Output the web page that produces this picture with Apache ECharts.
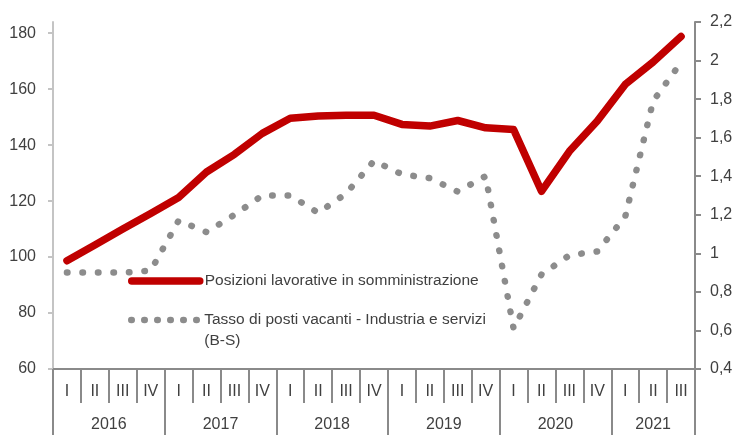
<!DOCTYPE html>
<html>
<head>
<meta charset="utf-8">
<script src="https://cdn.jsdelivr.net/npm/echarts@6/dist/echarts.min.js"></script>
<style>
  html, body { margin: 0; padding: 0; background: #fff; }
  #chart { width: 748px; height: 435px; }
</style>
</head>
<body>
<div id="chart"></div>
<script>
// dati
let years = ['2016', '2017', '2018', '2019', '2020', '2021'];
let quartersPerYear = [4, 4, 4, 4, 4, 3];
let quarterNames = ['I', 'II', 'III', 'IV'];

let somministrazione = [98.7, 104.3, 110, 115.6, 121.3, 130.4, 136.7, 144.2, 149.6, 150.4, 150.7, 150.7,
    147.4, 146.8, 148.8, 146.2, 145.6, 123.5, 137.8, 148.6, 161.7, 169.7, 178.8];
let tassoVacanti = [0.9, 0.9, 0.9, 0.91, 1.17, 1.11, 1.2, 1.3, 1.3, 1.21, 1.31, 1.48,
    1.41, 1.39, 1.32, 1.4, 0.61, 0.89, 0.99, 1.01, 1.19, 1.79, 1.99];

let leftTicks = [60, 80, 100, 120, 140, 160, 180];
let rightTicks = [0.4, 0.6, 0.8, 1, 1.2, 1.4, 1.6, 1.8, 2, 2.2];

let nameSomm = 'Posizioni lavorative in somministrazione';
let nameTasso = 'Tasso di posti vacanti - Industria e servizi\n(B-S)';

let font = "'Liberation Sans Narrow', 'Arial Narrow', 'Liberation Sans', Arial, sans-serif";
let textColor = '#404040';
let axisGray = '#8a8a8a';

// categorie e confini degli anni
let categories = [];
let yearBounds = [0];
let yearCenters = [];
years.forEach((y, i) => {
    let start = yearBounds[i];
    for (let q = 0; q < quartersPerYear[i]; q++) {
        categories.push(y + ' ' + quarterNames[q]);
    }
    yearBounds.push(start + quartersPerYear[i]);
    yearCenters.push(start + quartersPerYear[i] / 2);
});

function createChart() {
    let myChart = echarts.init(document.getElementById('chart'));
    let option = {
        animation: false,
        textStyle: { fontFamily: font },
        grid: { left: 53, right: 53, top: 22, bottom: 66 },
        legend: [{
            data: [nameSomm],
            orient: 'vertical',
            left: 128,
            top: 271,
            padding: 0,
            itemWidth: 68,
            itemHeight: 20,
            lineStyle: { width: 7.5 },
            itemStyle: { opacity: 0 },
            textStyle: { fontFamily: font, fontSize: 15.5, color: textColor, lineHeight: 20 },
            selectedMode: false
        }, {
            data: [nameTasso],
            orient: 'vertical',
            left: 128,
            top: 288.5,
            padding: 0,
            itemWidth: 68,
            itemHeight: 20,
            lineStyle: { width: 6.5, type: [0.5, 12.5] },
            itemStyle: { opacity: 0 },
            formatter: name => '\n' + name,
            textStyle: { fontFamily: font, fontSize: 15.5, color: textColor, lineHeight: 21 },
            selectedMode: false
        }],
        xAxis: [{
            type: 'category',
            data: categories,
            boundaryGap: true,
            position: 'bottom',
            axisLine: { show: true, lineStyle: { color: axisGray, width: 2 } },
            axisTick: { show: true, interval: 0, length: 34, lineStyle: { color: axisGray, width: 2 } },
            axisLabel: {
                interval: 0,
                margin: 15,
                fontSize: 16,
                color: textColor,
                fontFamily: font,
                formatter: v => v.split(' ')[1]
            },
            splitLine: { show: false }
        }, {
            type: 'value',
            min: 0,
            max: categories.length,
            position: 'bottom',
            axisLine: { show: false },
            axisTick: { show: true, customValues: yearBounds, length: 70, lineStyle: { color: axisGray, width: 2 } },
            axisLabel: {
                customValues: yearCenters,
                margin: 48,
                fontSize: 16,
                color: textColor,
                fontFamily: font,
                formatter: v => years[yearCenters.indexOf(v)]
            },
            splitLine: { show: false }
        }],
        yAxis: [{
            type: 'value',
            min: 60,
            max: 184,
            position: 'left',
            axisLine: { show: true, lineStyle: { color: '#c4c4c4', width: 2 } },
            axisTick: { show: true, customValues: leftTicks, length: 5, lineStyle: { color: '#c4c4c4', width: 2 } },
            axisLabel: { customValues: leftTicks, margin: 17, fontSize: 16, color: textColor, fontFamily: font },
            splitLine: { show: false }
        }, {
            type: 'value',
            min: 0.4,
            max: 2.2,
            position: 'right',
            axisLine: { show: true, lineStyle: { color: axisGray, width: 2 } },
            axisTick: { show: true, customValues: rightTicks, length: 6, lineStyle: { color: axisGray, width: 2 } },
            axisLabel: {
                customValues: rightTicks,
                margin: 15,
                fontSize: 16,
                color: textColor,
                fontFamily: font,
                formatter: v => String(+v.toFixed(1)).replace('.', ',')
            },
            splitLine: { show: false }
        }],
        series: [{
            name: nameTasso,
            type: 'line',
            xAxisIndex: 0,
            yAxisIndex: 1,
            data: tassoVacanti,
            symbol: 'none',
            lineStyle: { color: '#8c8c8c', width: 6.5, type: [0.5, 15], cap: 'round', join: 'round' },
            itemStyle: { color: '#8c8c8c' },
            z: 2
        }, {
            name: nameSomm,
            type: 'line',
            xAxisIndex: 0,
            yAxisIndex: 0,
            data: somministrazione,
            symbol: 'none',
            lineStyle: { color: '#c00000', width: 7.5, cap: 'round', join: 'round' },
            itemStyle: { color: '#c00000' },
            z: 3
        }]
    };
    myChart.setOption(option);
}
createChart();
</script>
</body>
</html>
